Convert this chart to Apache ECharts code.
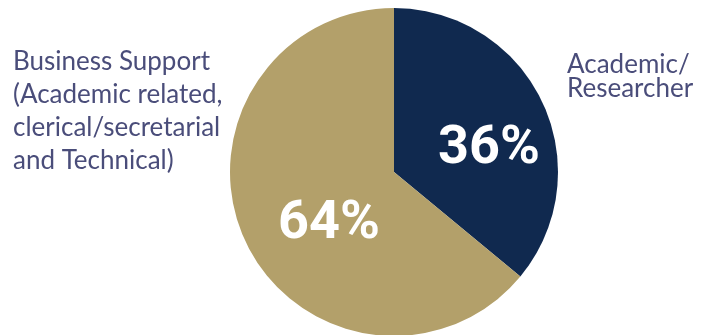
<!DOCTYPE html>
<html>
<head>
<meta charset="utf-8">
<script src="https://cdn.jsdelivr.net/npm/echarts@6/dist/echarts.min.js"></script>
<style>
  html, body { margin: 0; padding: 0; background: #ffffff; }
  #chart { width: 713px; height: 335px; }
</style>
</head>
<body>
<div id="chart"></div>
<script>
// Staff categories, drawn clockwise from 12 o'clock
const categories = ['Academic/\nResearcher', 'Business Support\n(Academic related,\nclerical/secretarial\nand Technical)'];
const shares = [36, 64];
const sliceColors = ['#10294f', '#b3a06a'];

// Where each label sits on the canvas
const pctLabelPos = [[489, 149], [329, 224]];
const nameLabelPos = [
  { x: 567, y: 53, lineHeight: 24 },
  { x: 13, y: 45, lineHeight: 33 }
];

const chart = echarts.init(document.getElementById('chart'), null, { renderer: 'canvas' });

const pctData = categories.map((name, i) => ({
  name: name,
  value: shares[i],
  itemStyle: { color: sliceColors[i] }
}));

const nameData = categories.map((name, i) => ({
  name: name,
  value: shares[i],
  itemStyle: { color: 'rgba(0,0,0,0)' },
  label: { lineHeight: nameLabelPos[i].lineHeight }
}));

chart.setOption({
  animation: false,
  series: [
    {
      // Slices with the percentage inside
      type: 'pie',
      center: [394, 172],
      radius: 164,
      startAngle: 90,
      clockwise: true,
      silent: true,
      data: pctData,
      label: {
        show: true,
        position: 'inside',
        formatter: p => p.value + '%',
        color: '#ffffff',
        fontFamily: 'Roboto, sans-serif',
        fontWeight: 'bold',
        fontSize: 54,
        overflow: 'none'
      },
      labelLine: { show: false },
      labelLayout: p => ({
        x: pctLabelPos[p.dataIndex][0],
        y: pctLabelPos[p.dataIndex][1],
        align: 'center',
        verticalAlign: 'middle'
      })
    },
    {
      // Category names beside the pie
      type: 'pie',
      center: [394, 172],
      radius: 164,
      startAngle: 90,
      clockwise: true,
      silent: true,
      data: nameData,
      label: {
        show: true,
        position: 'outside',
        formatter: p => p.name,
        color: '#4a4d7a',
        fontFamily: 'Lato, sans-serif',
        fontSize: 26,
        lineHeight: 33,
        overflow: 'none',
        width: 260
      },
      labelLine: { show: false },
      labelLayout: p => ({
        x: nameLabelPos[p.dataIndex].x,
        y: nameLabelPos[p.dataIndex].y,
        align: 'left',
        verticalAlign: 'top'
      })
    }
  ]
});
</script>
</body>
</html>
